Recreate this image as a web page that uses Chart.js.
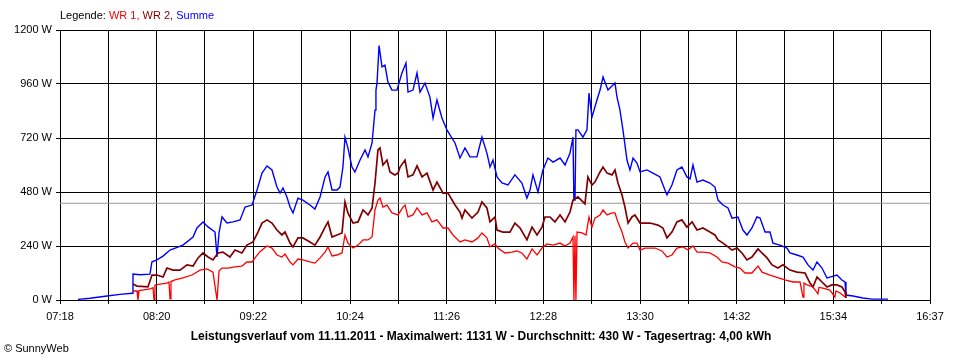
<!DOCTYPE html>
<html>
<head>
<meta charset="utf-8">
<script src="https://cdn.jsdelivr.net/npm/chart.js@4.4.1/dist/chart.umd.min.js"></script>
<style>
body { margin: 0; background: #fff; font-family: "Liberation Sans", Arial, sans-serif; font-size: 11px; color: #000; }
#wrap { position: relative; width: 960px; height: 360px; }
#legend { position: absolute; left: 60px; top: 9px; }
#title { position: absolute; left: 0; width: 962px; top: 329px; text-align: center; font-weight: bold; font-size: 12px; }
#copy { position: absolute; left: 4px; top: 342px; }
</style>
</head>
<body>
<div id="wrap">
<canvas id="powerChart" width="960" height="360"></canvas>
<div id="legend">Legende: <span style="color:#ff0000">WR 1,</span> <span style="color:#800000">WR 2,</span> <span style="color:#0000ff">Summe</span></div>
<div id="title">Leistungsverlauf vom 11.11.2011 - Maximalwert: 1131 W - Durchschnitt: 430 W - Tagesertrag: 4,00 kWh</div>
<div id="copy">© SunnyWeb</div>
</div>
<script>
// Zeitachse in Minuten seit Mitternacht
const tickLabels = ['07:18', '08:20', '09:22', '10:24', '11:26', '12:28', '13:30', '14:32', '15:34', '16:37'];
const startMin = 438;   // 07:18
const endMin = 997;     // 16:37
const average = 430;

// Summe
const sumMinutes = [449.6, 457.3, 468.2, 476.6, 484.3, 484.9, 489.4, 495.8, 497.1, 500.3, 504.2, 508.7, 517.0, 523.5, 526.0, 529.9, 533.1, 537.6, 538.9, 540.2, 542.1, 545.3, 549.2, 553.7, 556.9, 561.4, 564.6, 567.8, 571.0, 574.2, 577.4, 579.4, 581.3, 583.8, 585.8, 587.7, 590.9, 594.1, 598.6, 601.8, 605.1, 608.3, 610.2, 612.8, 616.0, 617.9, 619.8, 621.1, 623.0, 625.6, 627.5, 630.8, 634.0, 635.9, 638.5, 640.4, 641.0, 641.7, 643.0, 644.9, 646.8, 648.7, 651.3, 654.5, 657.7, 660.3, 661.6, 664.8, 667.4, 669.3, 672.5, 675.7, 677.7, 680.2, 683.4, 686.6, 691.8, 695.0, 698.2, 701.4, 705.9, 709.1, 712.3, 714.3, 716.2, 718.8, 722.0, 725.8, 730.3, 734.8, 738.0, 740.0, 741.9, 745.1, 748.3, 751.5, 754.8, 759.3, 762.5, 765.7, 767.6, 768.2, 768.9, 769.5, 770.8, 774.0, 776.6, 777.9, 779.8, 783.0, 785.0, 786.9, 790.1, 794.6, 795.9, 797.8, 799.7, 802.3, 804.2, 806.2, 808.7, 810.7, 815.1, 819.0, 823.5, 826.7, 828.0, 831.2, 834.4, 837.6, 840.8, 842.8, 844.7, 847.3, 851.1, 855.6, 858.8, 860.8, 864.0, 867.2, 869.8, 873.6, 876.8, 879.4, 882.6, 885.8, 887.8, 891.0, 894.2, 896.1, 900.6, 905.1, 907.0, 911.5, 915.4, 918.6, 921.8, 924.4, 927.6, 930.8, 932.7, 937.2, 940.4, 942.4, 943.0, 947.5, 953.9, 959.7, 964.9, 970.0];
const sumWatts = [3, 8, 18, 25, 30, 115, 112, 115, 170, 178, 195, 222, 244, 280, 320, 347, 325, 302, 191, 300, 369, 342, 347, 356, 413, 422, 489, 564, 596, 578, 502, 475, 498, 458, 413, 387, 453, 444, 422, 404, 458, 547, 569, 489, 489, 502, 591, 724, 676, 591, 569, 622, 667, 636, 698, 844, 933, 964, 1131, 1036, 1044, 969, 933, 933, 1009, 1053, 924, 933, 1009, 924, 964, 902, 809, 889, 809, 756, 698, 631, 676, 636, 636, 724, 653, 591, 622, 547, 520, 511, 556, 520, 453, 489, 556, 480, 578, 631, 613, 631, 600, 653, 724, 444, 444, 756, 756, 724, 756, 920, 813, 889, 933, 991, 933, 964, 902, 844, 756, 622, 578, 631, 609, 569, 578, 564, 547, 489, 467, 511, 578, 591, 547, 538, 600, 524, 533, 520, 502, 444, 422, 409, 364, 369, 311, 289, 320, 369, 364, 302, 302, 253, 244, 231, 209, 200, 191, 156, 133, 169, 142, 98, 102, 111, 89, 80, 22, 18, 9, 4, 4, 4];

// WR 2
const wr2Minutes = [484.9, 487.5, 494.5, 497.1, 500.3, 504.2, 506.7, 510.6, 515.1, 519.6, 523.5, 526.7, 529.9, 533.1, 536.3, 539.5, 542.7, 547.2, 550.4, 554.9, 558.1, 562.0, 565.2, 567.8, 571.0, 574.2, 577.4, 580.6, 582.6, 585.8, 587.7, 590.9, 594.1, 598.6, 601.8, 605.1, 608.3, 610.2, 612.8, 616.0, 619.2, 621.1, 623.0, 626.3, 629.5, 632.7, 635.9, 638.5, 640.4, 642.3, 643.6, 645.5, 648.1, 650.0, 653.2, 655.2, 656.5, 659.7, 661.6, 664.8, 667.4, 670.6, 673.8, 677.7, 680.2, 684.1, 687.3, 691.8, 695.0, 696.3, 698.2, 702.7, 706.6, 709.1, 712.3, 714.3, 717.5, 718.8, 722.6, 727.1, 730.3, 733.6, 738.0, 741.3, 744.5, 747.7, 749.6, 752.8, 756.0, 759.3, 762.5, 765.7, 767.6, 770.8, 774.0, 775.3, 777.2, 779.8, 781.7, 785.0, 786.9, 789.5, 792.7, 794.6, 796.5, 799.1, 801.0, 803.0, 805.5, 807.4, 810.7, 813.9, 817.1, 822.2, 825.4, 828.0, 831.2, 834.4, 837.6, 840.8, 844.1, 847.3, 851.1, 855.6, 858.8, 860.8, 864.0, 867.2, 869.8, 873.0, 876.2, 879.4, 882.6, 886.5, 889.0, 892.3, 895.5, 899.3, 902.5, 907.0, 911.5, 916.7, 919.9, 921.8, 924.4, 927.6, 930.8, 934.0, 937.2, 940.4, 942.4, 943.0];
const wr2Watts = [71, 62, 58, 111, 111, 102, 142, 133, 133, 156, 151, 187, 209, 191, 178, 209, 213, 191, 222, 209, 244, 258, 302, 342, 356, 342, 311, 289, 302, 253, 236, 276, 276, 258, 244, 280, 324, 347, 280, 289, 298, 436, 387, 342, 347, 400, 378, 409, 520, 667, 676, 600, 622, 569, 556, 564, 591, 622, 547, 556, 596, 547, 564, 489, 524, 475, 475, 422, 391, 364, 400, 364, 391, 436, 409, 347, 369, 311, 302, 302, 342, 320, 267, 324, 289, 324, 369, 369, 347, 378, 347, 391, 444, 458, 436, 427, 547, 511, 524, 569, 591, 564, 556, 578, 520, 467, 413, 342, 369, 378, 342, 342, 342, 333, 320, 276, 302, 347, 356, 324, 347, 311, 320, 302, 289, 267, 253, 236, 222, 231, 209, 178, 191, 227, 209, 187, 156, 142, 156, 133, 124, 120, 75, 58, 102, 80, 58, 67, 67, 58, 36, 9];

// WR 1
const wr1Minutes = [484.9, 487.5, 488.1, 488.8, 490.7, 495.8, 497.8, 498.4, 499.0, 502.3, 506.7, 508.0, 508.7, 509.3, 511.9, 517.0, 522.8, 528.0, 532.4, 536.3, 538.9, 539.5, 540.2, 542.1, 545.9, 550.4, 554.9, 558.1, 561.4, 563.3, 566.5, 571.0, 574.2, 577.4, 580.6, 582.6, 585.8, 587.7, 590.9, 594.1, 598.6, 601.8, 605.1, 608.3, 610.2, 612.8, 616.0, 619.2, 621.1, 623.0, 626.3, 629.5, 632.7, 635.9, 638.5, 640.4, 642.3, 643.6, 645.5, 648.1, 651.3, 655.2, 658.4, 659.7, 661.6, 664.8, 667.4, 670.6, 673.8, 677.0, 680.2, 684.1, 687.3, 690.5, 695.0, 698.2, 702.7, 706.6, 709.1, 712.3, 714.3, 717.5, 719.4, 723.9, 728.4, 731.6, 734.8, 738.0, 741.3, 744.5, 747.7, 750.9, 754.8, 759.3, 762.5, 765.7, 767.6, 768.2, 768.9, 769.5, 770.2, 773.4, 776.0, 777.9, 779.8, 781.7, 785.0, 786.9, 789.5, 792.7, 794.6, 796.5, 799.1, 801.0, 803.0, 806.2, 808.7, 810.7, 813.9, 820.3, 824.8, 828.0, 831.2, 834.4, 838.3, 841.5, 844.7, 847.3, 851.1, 855.6, 860.1, 863.3, 867.2, 871.7, 874.9, 878.1, 882.6, 886.5, 889.1, 894.2, 898.1, 903.8, 909.0, 913.5, 915.4, 916.0, 918.0, 921.8, 925.0, 925.6, 928.2, 932.7, 935.9, 936.6, 939.2, 942.4];
const wr1Watts = [40, 40, 0, 42, 44, 49, 55, 0, 67, 71, 75, 80, 5, 82, 89, 98, 111, 133, 138, 124, 0, 0, 130, 142, 142, 147, 151, 169, 169, 187, 215, 240, 231, 200, 191, 204, 169, 156, 182, 178, 169, 164, 187, 213, 236, 196, 200, 209, 289, 253, 231, 244, 267, 267, 280, 400, 444, 453, 413, 422, 387, 378, 413, 422, 369, 378, 409, 378, 387, 347, 356, 320, 320, 289, 258, 267, 258, 276, 298, 276, 236, 249, 231, 209, 213, 218, 209, 182, 227, 200, 231, 249, 244, 253, 240, 253, 280, 0, 285, 0, 302, 298, 289, 369, 324, 364, 378, 400, 378, 387, 387, 347, 302, 258, 231, 253, 253, 222, 231, 231, 218, 191, 200, 231, 236, 222, 240, 213, 213, 209, 191, 169, 164, 147, 142, 120, 120, 151, 124, 111, 102, 89, 80, 80, 13, 75, 67, 58, 27, 56, 53, 44, 13, 40, 31, 13];

function toPoints(minutes, watts) {
    return minutes.map(function(m, i) { return { x: m, y: watts[i] }; });
}

const gridMinutes = [];
for (let i = 0; i <= 18; i++) {
    gridMinutes.push(startMin + i * (endMin - startMin) / 18);
}

const axisFont = { family: '"Liberation Sans", Arial, sans-serif', size: 11 };

const ctx = document.getElementById('powerChart').getContext('2d');
const powerChart = new Chart(ctx, {
    type: 'line',
    data: {
        datasets: [
            {
                label: 'WR 1',
                data: toPoints(wr1Minutes, wr1Watts),
                borderColor: '#ff0000',
                borderWidth: 1.3
            },
            {
                label: 'WR 2',
                data: toPoints(wr2Minutes, wr2Watts),
                borderColor: '#800000',
                borderWidth: 1.7
            },
            {
                label: 'Summe',
                data: toPoints(sumMinutes, sumWatts),
                borderColor: '#0000ff',
                borderWidth: 1.4
            },
            {
                label: 'Durchschnitt',
                data: [{ x: startMin, y: average }, { x: endMin, y: average }],
                borderColor: '#999999',
                borderWidth: 1
            }
        ]
    },
    options: {
        responsive: false,
        animation: false,
        elements: {
            point: { radius: 0 },
            line: { tension: 0 }
        },
        layout: {
            padding: { top: 30, right: 30, left: 0, bottom: 0 }
        },
        plugins: {
            legend: { display: false },
            tooltip: { enabled: false }
        },
        scales: {
            x: {
                type: 'linear',
                min: startMin,
                max: endMin,
                afterBuildTicks: function(scale) {
                    scale.ticks = gridMinutes.map(function(v) { return { value: v }; });
                },
                afterFit: function(scale) { scale.height = 60; },
                grid: { color: '#000', lineWidth: 1, tickLength: 4 },
                border: { color: '#000' },
                ticks: {
                    autoSkip: false,
                    maxRotation: 0,
                    padding: 6,
                    color: '#000',
                    font: axisFont,
                    callback: function(value, index) {
                        return index % 2 === 0 ? tickLabels[index / 2] : '';
                    }
                }
            },
            y: {
                min: 0,
                max: 1200,
                afterFit: function(scale) { scale.width = 60; },
                grid: { color: '#000', lineWidth: 1, tickLength: 4 },
                border: { color: '#000' },
                ticks: {
                    stepSize: 240,
                    padding: 4,
                    color: '#000',
                    font: axisFont,
                    callback: function(value) { return value + ' W'; }
                }
            }
        }
    }
});
</script>
</body>
</html>
